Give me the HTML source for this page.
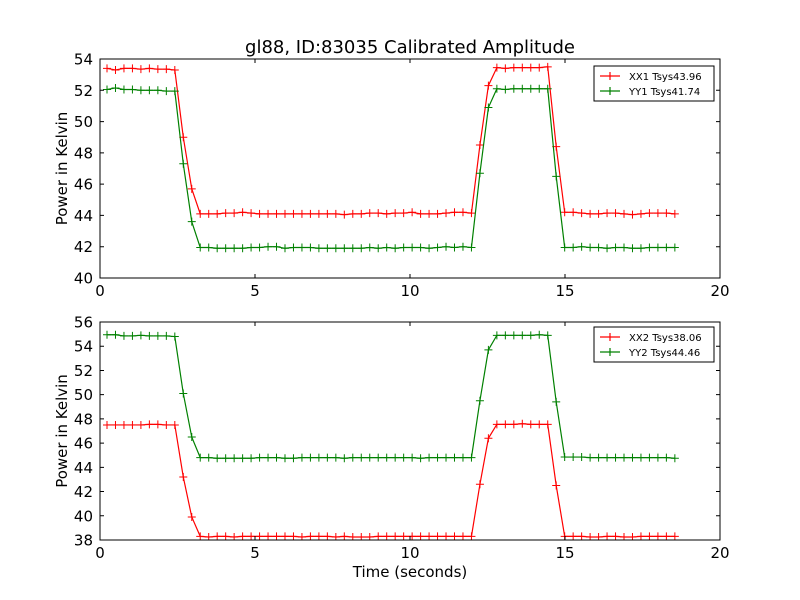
<!DOCTYPE html>
<html><head><meta charset="utf-8"><style>
body{margin:0;background:#fff;}
svg{display:block;font-family:"DejaVu Sans","Liberation Sans",sans-serif;}
</style></head><body>
<svg id="fig" width="800" height="600" xmlns="http://www.w3.org/2000/svg">
<rect width="800" height="600" fill="#fff"/>
<text x="410" y="53" font-size="18" text-anchor="middle">gl88, ID:83035 Calibrated Amplitude</text>
<text x="410" y="577" font-size="15" text-anchor="middle">Time (seconds)</text>
</svg>
<script>
const xTicks=[0,5,10,15,20];
const topYTicks=[40,42,44,46,48,50,52,54];
const botYTicks=[38,40,42,44,46,48,50,52,54,56];
const t0=0.226, dt=0.2734;
const xx1=[53.4,53.3,53.4,53.4,53.35,53.4,53.35,53.35,53.3,49.0,45.7,44.1,44.1,44.1,44.15,44.15,44.2,44.15,44.1,44.1,44.1,44.1,44.1,44.1,44.1,44.1,44.1,44.1,44.05,44.1,44.1,44.15,44.15,44.1,44.15,44.15,44.2,44.1,44.1,44.1,44.15,44.2,44.2,44.15,48.5,52.3,53.45,53.4,53.45,53.45,53.45,53.45,53.5,48.4,44.2,44.2,44.15,44.1,44.1,44.15,44.15,44.1,44.05,44.1,44.15,44.15,44.15,44.1];
const yy1=[52.05,52.15,52.05,52.05,52.0,52.0,52.0,51.95,51.95,47.3,43.6,41.95,41.95,41.9,41.9,41.9,41.9,41.95,41.95,42.0,42.0,41.9,41.95,41.95,41.95,41.9,41.9,41.9,41.9,41.9,41.9,41.95,41.9,41.95,41.9,41.95,41.95,41.95,41.9,41.95,42.0,41.95,42.0,41.95,46.7,50.9,52.1,52.05,52.1,52.1,52.1,52.1,52.1,46.5,41.95,41.95,42.0,41.95,41.95,41.9,41.95,41.95,41.9,41.9,41.95,41.95,41.95,41.95];
const xx2=[47.5,47.5,47.5,47.5,47.5,47.55,47.55,47.5,47.5,43.2,39.9,38.3,38.25,38.3,38.3,38.25,38.3,38.3,38.3,38.3,38.3,38.3,38.3,38.25,38.3,38.3,38.3,38.25,38.3,38.25,38.25,38.25,38.3,38.3,38.3,38.3,38.3,38.3,38.3,38.3,38.3,38.3,38.3,38.3,42.6,46.4,47.55,47.55,47.55,47.6,47.55,47.55,47.55,42.5,38.3,38.3,38.3,38.25,38.25,38.3,38.3,38.25,38.25,38.3,38.3,38.3,38.3,38.3];
const yy2=[54.95,54.95,54.85,54.85,54.9,54.85,54.85,54.85,54.8,50.1,46.5,44.8,44.8,44.75,44.75,44.75,44.75,44.75,44.8,44.8,44.8,44.75,44.75,44.8,44.8,44.8,44.8,44.8,44.75,44.8,44.8,44.8,44.8,44.8,44.8,44.8,44.8,44.75,44.8,44.8,44.8,44.8,44.8,44.8,49.5,53.7,54.9,54.9,54.9,54.9,54.9,54.95,54.9,49.4,44.85,44.85,44.85,44.8,44.8,44.8,44.8,44.8,44.8,44.8,44.8,44.8,44.8,44.75];
const times=xx1.map((_,i)=>t0+i*dt);
const svg=document.getElementById('fig');
const NS='http://www.w3.org/2000/svg';
function mk(tag,attrs,parent){const e=document.createElementNS(NS,tag);for(const k in attrs)e.setAttribute(k,attrs[k]);(parent||svg).appendChild(e);return e;}
function panel(name,top,bottom,ymin,ymax,yTicks,series,legendY){
  const L=100,R=720;
  const g=mk('g',{});
  
  
  const sx=v=>L+(v-0)/(20-0)*(R-L);
  const sy=v=>bottom-(v-ymin)/(ymax-ymin)*(bottom-top);
  const clipId='clip-'+name;
  const cp=mk('clipPath',{id:clipId},g);mk('rect',{x:L,y:top,width:R-L,height:bottom-top},cp);
  series.forEach(s=>{
    const sg=mk('g',{'clip-path':'url(#'+clipId+')'},g);
    
    
    const pts=s.vals.map((v,i)=>sx(times[i]).toFixed(2)+','+sy(v).toFixed(2)).join(' ');
    const pl=mk('polyline',{points:pts,fill:'none',stroke:s.color,'stroke-width':1.2},sg);
    
    
    s.vals.forEach((v,i)=>{const x=sx(times[i]),y=sy(v);
      const m=mk('path',{d:`M${x-4},${y}H${x+4}M${x},${y-4}V${y+4}`,stroke:s.color,'stroke-width':1},sg);
      
      });
  });
  const fr=mk('rect',{x:L,y:top,width:R-L,height:bottom-top,fill:'none',stroke:'#000','stroke-width':1},g);
  
  
  xTicks.forEach(v=>{const x=sx(v);
    mk('path',{d:`M${x},${bottom}v-4M${x},${top}v4`,stroke:'#000'},g);
    const t=mk('text',{x:x,y:bottom+18,'font-size':15,'text-anchor':'middle'},g);t.textContent=v;
    
    });
  yTicks.forEach(v=>{const y=sy(v);
    mk('path',{d:`M${L},${y}h4M${R},${y}h-4`,stroke:'#000'},g);
    const t=mk('text',{x:L-7,y:y+5.5,'font-size':15,'text-anchor':'end'},g);t.textContent=v;
    
    });
  const yt=mk('text',{x:0,y:0,'font-size':15,'text-anchor':'middle',transform:`translate(67,${(top+bottom)/2}) rotate(-90)`},g);
  yt.textContent='Power in Kelvin';
  
  
  const lg=mk('g',{},g);
  
  
  mk('rect',{x:594,y:legendY,width:120,height:35,fill:'#fff',stroke:'#000','stroke-width':1},lg);
  series.forEach((s,i)=>{const y=legendY+10+i*15;
    const e=mk('g',{},lg);
    
    
    mk('path',{d:`M600,${y}h20M610,${y-4}v8`,stroke:s.color,'stroke-width':1.2},e);
    const t=mk('text',{x:629,y:y+4,'font-size':10},e);t.textContent=s.label;});
}
panel('top-panel',59,278,40,54,topYTicks,[{name:'xx1',vals:xx1,color:'#ff0000',label:'XX1 Tsys43.96'},{name:'yy1',vals:yy1,color:'#008000',label:'YY1 Tsys41.74'}],66);
panel('bottom-panel',322,540,38,56,botYTicks,[{name:'xx2',vals:xx2,color:'#ff0000',label:'XX2 Tsys38.06'},{name:'yy2',vals:yy2,color:'#008000',label:'YY2 Tsys44.46'}],327);
</script>
</body></html>
